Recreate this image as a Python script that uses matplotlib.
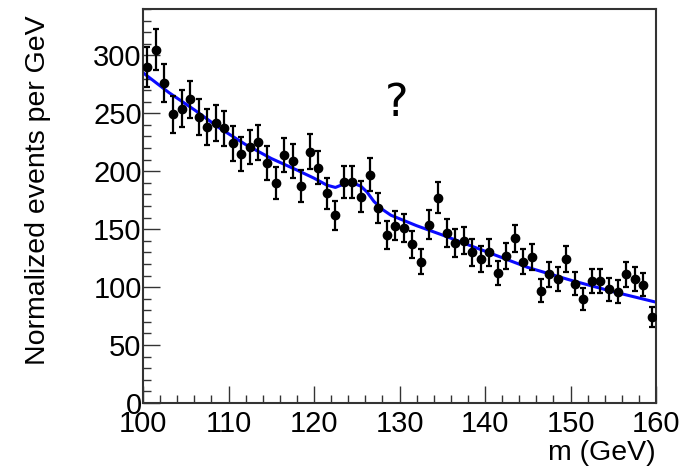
import numpy as np
import matplotlib
matplotlib.use("Agg")
import matplotlib.pyplot as plt
from matplotlib.ticker import MultipleLocator

# Binned mass spectrum (1 GeV bins, centres)
mass = np.arange(100.5, 160.0, 1.0)
events = [290, 305, 276, 249, 254, 262, 247, 238, 242, 237,
          224, 215, 221, 225, 207, 190, 214, 209, 187, 217,
          203, 181, 162, 191, 191, 178, 197, 168, 145, 153,
          151, 137, 122, 154, 177, 147, 138, 140, 130, 124,
          130, 112, 127, 142, 122, 126, 97, 111, 107, 124,
          103, 90, 105, 105, 98, 96, 111, 107, 102, 74]
errors = np.sqrt(events)

# Fitted model (background + small peak near 125 GeV)
fit_mass = [100, 103, 106, 109, 112, 115, 118, 120, 121.5, 122.5, 123.5,
            124.5, 125.5, 126.2, 127, 128, 129, 130, 132, 135, 140, 145,
            150, 155, 160]
fit_vals = [285, 268, 253, 237, 223, 211, 201, 194, 188, 186, 189,
            190, 187, 182, 174, 167, 162, 159, 153, 145, 131, 117,
            106, 96, 87]

plt.rcParams['font.family'] = ['Liberation Sans', 'DejaVu Sans']

fig = plt.figure(figsize=(6.95, 4.68), dpi=100)
ax = fig.add_axes([0.2058, 0.1389, 0.7381, 0.8419])

ax.plot(fit_mass, fit_vals, color='#0a0aff', lw=2.2, zorder=2)
ax.errorbar(mass, events, yerr=errors, fmt='o', color='black', ms=6,
            elinewidth=1.6, capsize=2.5, capthick=1.6, zorder=3)

ax.set_xlim(100, 160)
ax.set_ylim(0, 340)
ax.xaxis.set_major_locator(MultipleLocator(10))
ax.xaxis.set_minor_locator(MultipleLocator(2))
ax.yaxis.set_major_locator(MultipleLocator(50))
ax.yaxis.set_minor_locator(MultipleLocator(10))
ax.tick_params(which='both', direction='in', top=False, right=False,
               labelsize=21, width=1.0, color='#333333')
ax.tick_params(which='major', length=12)
ax.tick_params(which='minor', length=6)
ax.tick_params(axis='x', pad=5)
ax.tick_params(axis='y', pad=1)
for s in ax.spines.values():
    s.set_linewidth(1.5)
    s.set_color('#333333')

ax.set_ylabel('Normalized events per GeV', fontsize=20.5)
ax.yaxis.set_label_coords(-0.205, 0.54)
ax.yaxis.label.set_va('center')
ax.set_xlabel('m (GeV)', fontsize=20.5, loc='right')
ax.xaxis.set_label_coords(1.0, -0.126)
ax.xaxis.label.set_va('center')

# question mark placed in figure pixels (origin bottom-left)
ax.text(397, 468 - 104, '?', transform=None, fontsize=32,
        family='DejaVu Sans', ha='center', va='center')

fig.savefig('out.png', dpi=100)
